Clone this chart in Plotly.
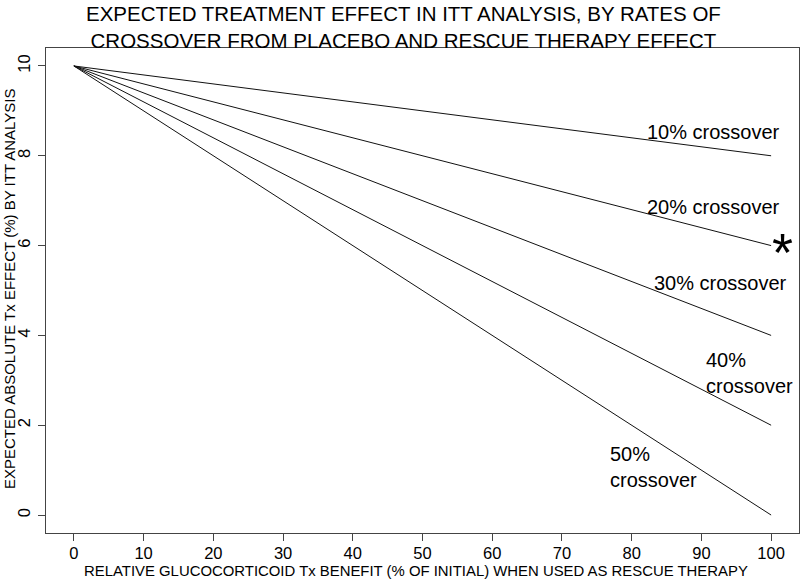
import plotly.graph_objects as go

# Data
rescue_benefit = [0, 100]                      # x: relative GC Tx benefit (%)
crossover_rates = ["10%", "20%", "30%", "40%", "50%"]
effect_at_0 = [10, 10, 10, 10, 10]             # ITT effect when rescue benefit = 0
effect_at_100 = [8, 6, 4, 2, 0]                # ITT effect when rescue benefit = 100
x_ticks = [0, 10, 20, 30, 40, 50, 60, 70, 80, 90, 100]
y_ticks = [0, 2, 4, 6, 8, 10]

# label positions (data coords)
label_text = ["10% crossover", "20% crossover", "30% crossover", "40%<br>crossover", "50%<br>crossover"]
label_x = [91.8, 91.8, 92.7, 90.4, 76.6]
label_y = [8.53, 6.86, 5.17, 3.17, 1.06]
label_anchor = ["center", "center", "center", "left", "left"]
star_x, star_y = 101.6, 5.9

SANS = "Liberation Sans, Arial, sans-serif"

fig = go.Figure()
for i, r in enumerate(crossover_rates):
    fig.add_trace(go.Scatter(
        x=rescue_benefit, y=[effect_at_0[i], effect_at_100[i]],
        mode="lines", line=dict(color="#111111", width=1),
        name=r, showlegend=False, hoverinfo="skip"))

for t, x, y, a in zip(label_text, label_x, label_y, label_anchor):
    fig.add_annotation(x=x, y=y, text=t, showarrow=False, xanchor=a, align="left",
                       font=dict(family=SANS, size=20, color="black"))
fig.add_annotation(x=star_x, y=star_y, text="*", showarrow=False,
                   font=dict(family=SANS, size=54, color="black"), yshift=-2)

fig.add_annotation(xref="paper", yref="paper", x=0.475, y=1.0, yshift=21,
                   text="EXPECTED TREATMENT EFFECT IN ITT ANALYSIS, BY RATES OF<br>CROSSOVER FROM PLACEBO AND RESCUE THERAPY EFFECT",
                   showarrow=False, xanchor="center", yanchor="middle",
                   font=dict(family=SANS, size=20.5, color="black"))

# axis titles
fig.add_annotation(xref="paper", yref="paper", x=(416 - 46) / 753, y=0, yshift=-38,
                   text="RELATIVE GLUCOCORTICOID Tx BENEFIT (% OF INITIAL) WHEN USED AS RESCUE THERAPY",
                   showarrow=False, xanchor="center", yanchor="middle",
                   font=dict(family=SANS, size=14.9, color="black"))
fig.add_annotation(xref="paper", yref="paper", x=0, xshift=-37, y=(533 - 289) / 485,
                   text="EXPECTED ABSOLUTE Tx EFFECT (%) BY ITT ANALYSIS", textangle=-90,
                   showarrow=False, xanchor="center", yanchor="middle",
                   font=dict(family=SANS, size=15, color="black"))

fig.update_layout(
    width=800, height=583,
    margin=dict(l=46, r=1, t=48, b=50),
    paper_bgcolor="white", plot_bgcolor="white",
    xaxis=dict(range=[-4, 104], tickvals=x_ticks, ticktext=[str(v) for v in x_ticks],
               showgrid=False, zeroline=False, showline=True, linecolor="#444444", linewidth=1,
               mirror=True, ticks="outside", ticklen=7, tickcolor="#444444", automargin=False,
               ticklabelstandoff=-2,
               tickfont=dict(family=SANS, size=16.5, color="black")),
    yaxis=dict(range=[-0.4, 10.4], tickvals=y_ticks, ticktext=[str(v) for v in y_ticks],
               showgrid=False, zeroline=False, showline=True, linecolor="#444444", linewidth=1,
               mirror=True, ticks="outside", ticklen=7, tickcolor="#444444", tickangle=-90,
               automargin=False, ticklabelstandoff=1,
               tickfont=dict(family=SANS, size=16.5, color="black")),
)

fig.write_html("out.html", config={"displayModeBar": False},
               post_script="document.body.style.margin='0px';document.body.style.overflow='hidden';")
